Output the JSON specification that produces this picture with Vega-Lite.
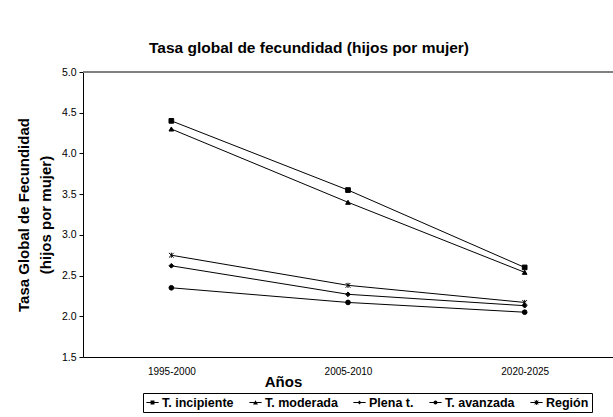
{
  "$schema": "https://vega.github.io/schema/vega-lite/v6.json",
  "autosize": {"type": "none"},
  "padding": {"left": 83, "top": 72, "right": 0, "bottom": 60},
  "width": 530,
  "height": 285,
  "title": {
    "text": "Tasa global de fecundidad (hijos por mujer)",
    "fontSize": 15.5,
    "fontWeight": "bold",
    "font": "Liberation Sans",
    "color": "black",
    "anchor": "middle",
    "dx": -39,
    "offset": 11
  },
  "config": {
    "font": "Liberation Sans",
    "view": {"stroke": null},
    "axis": {"grid": false, "domainColor": "black", "tickColor": "black", "labelColor": "black", "titleColor": "black", "labelFont": "Liberation Sans", "titleFont": "Liberation Sans"}
  },
  "data": {
    "values": [
      {"periodo": "1995-2000", "serie": "T. incipiente", "valor": 4.4},
      {"periodo": "2005-2010", "serie": "T. incipiente", "valor": 3.55},
      {"periodo": "2020-2025", "serie": "T. incipiente", "valor": 2.6},
      {"periodo": "1995-2000", "serie": "T. moderada", "valor": 4.3},
      {"periodo": "2005-2010", "serie": "T. moderada", "valor": 3.4},
      {"periodo": "2020-2025", "serie": "T. moderada", "valor": 2.54},
      {"periodo": "1995-2000", "serie": "Plena t.", "valor": 2.62},
      {"periodo": "2005-2010", "serie": "Plena t.", "valor": 2.27},
      {"periodo": "2020-2025", "serie": "Plena t.", "valor": 2.13},
      {"periodo": "1995-2000", "serie": "T. avanzada", "valor": 2.35},
      {"periodo": "2005-2010", "serie": "T. avanzada", "valor": 2.17},
      {"periodo": "2020-2025", "serie": "T. avanzada", "valor": 2.05},
      {"periodo": "1995-2000", "serie": "Región", "valor": 2.75},
      {"periodo": "2005-2010", "serie": "Región", "valor": 2.38},
      {"periodo": "2020-2025", "serie": "Región", "valor": 2.17}
    ]
  },
  "encoding": {
    "x": {
      "field": "periodo",
      "type": "ordinal",
      "scale": {"type": "point", "padding": 0.5},
      "axis": {
        "title": "Años",
        "titleFontSize": 15,
        "titleFontWeight": "bold",
        "titleX": 200,
        "titleY": 17,
        "titleBaseline": "top",
        "labelAngle": 0,
        "labelFontSize": 10,
        "labelPadding": 9,
        "ticks": false,
        "domainColor": "black"
      }
    },
    "y": {
      "field": "valor",
      "type": "quantitative",
      "scale": {"domain": [1.5, 5], "nice": false, "zero": false},
      "axis": {
        "values": [1.5, 2, 2.5, 3, 3.5, 4, 4.5, 5],
        "format": ".1f",
        "title": ["Tasa Global de Fecundidad", "(hijos por mujer)"],
        "titleFontSize": 15,
        "titleFontWeight": "bold",
        "titleLineHeight": 22,
        "titlePadding": 8,
        "labelFontSize": 10.5,
        "tickSize": 4,
        "labelPadding": 3
      }
    }
  },
  "layer": [
    {
      "mark": {"type": "rule", "color": "#808080", "strokeWidth": 1},
      "encoding": {"y": {"datum": 5}, "x": {"value": 0}, "x2": {"value": 530}}
    },
    {
      "mark": {"type": "line", "color": "black", "strokeWidth": 1},
      "encoding": {"detail": {"field": "serie"}}
    },
    {
      "mark": {"type": "point", "filled": true, "fill": "black", "stroke": "black", "strokeWidth": 1, "opacity": 1, "size": 22},
      "encoding": {
        "shape": {
          "field": "serie",
          "scale": {
            "domain": ["T. incipiente", "T. moderada", "Plena t.", "T. avanzada", "Región"],
            "range": ["square", "triangle-up", "diamond", "circle", "M-1,-1L1,1M-1,1L1,-1M0,-1.1V1.1"]
          },
          "legend": null
        }
      }
    },
    {
      "mark": {"type": "point", "filled": true, "fill": "black", "opacity": 0},
      "encoding": {
        "shape": {
          "field": "serie",
          "scale": {
            "domain": ["T. incipiente", "T. moderada", "Plena t.", "T. avanzada", "Región"],
            "range": [
              "M-1,-0.08H1V0.08H-1ZM-0.32,-0.32H0.32V0.32H-0.32Z",
              "M-1,-0.08H1V0.08H-1ZM0,-0.38L0.4,0.32H-0.4Z",
              "M-1,-0.08H1V0.08H-1ZM0,-0.34L0.3,0L0,0.34L-0.3,0Z",
              "M-1,-0.08H1V0.08H-1ZM-0.32,0A0.32,0.32 0 1 1 0.32,0A0.32,0.32 0 1 1 -0.32,0Z",
              "M-1,-0.08H1V0.08H-1ZM-0.07,-0.4H0.07V0.4H-0.07ZM-0.25,-0.35L0.35,0.25L0.25,0.35L-0.35,-0.25ZM-0.35,0.25L0.25,-0.35L0.35,-0.25L-0.25,0.35Z"
            ]
          },
          "legend": {
            "title": null,
            "orient": "none",
            "legendX": 60,
            "legendY": 321,
            "direction": "horizontal",
            "columns": 5,
            "strokeColor": "black",
            "padding": 3,
            "symbolSize": 150,
            "symbolOpacity": 1,
            "symbolFillColor": "black",
            "symbolStrokeWidth": 0,
            "labelFontSize": 12.5,
            "labelFontWeight": "bold",
            "labelColor": "black",
            "labelOffset": 3,
            "columnPadding": 15
          }
        }
      }
    }
  ],
  "resolve": {"scale": {"shape": "independent"}}
}
